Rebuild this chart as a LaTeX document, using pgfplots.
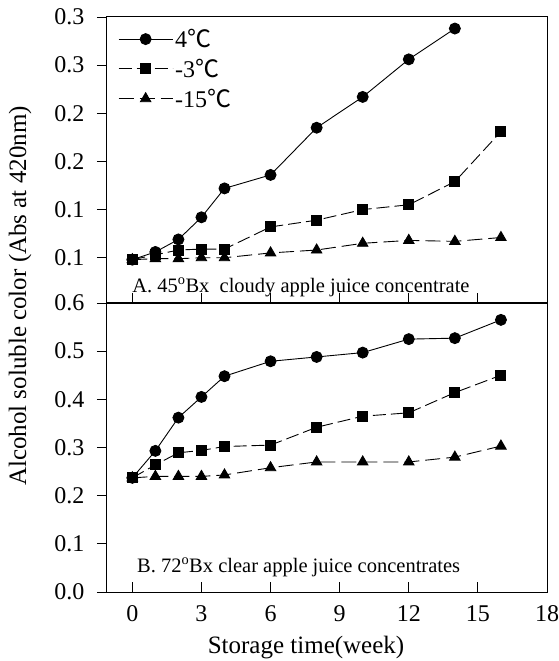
\documentclass[border=0pt]{standalone}
\usepackage{pgfplots}
\pgfplotsset{compat=1.18}
\usepackage{fontspec}
\setmainfont{Liberation Serif}
\newfontfamily\cjk{Noto Sans CJK SC}
\newcommand{\degC}{{\cjk ℃}}
\newcommand{\figfont}{\fontsize{24}{28}\selectfont}
\newcommand{\labfont}{\fontsize{25}{29}\selectfont}
\newcommand{\annfont}{\fontsize{20.5}{24}\selectfont}

\pgfplotsset{
    panel/.style={
        scale only axis,
        width=440pt,
        xmin=-1.1, xmax=18,
        xtick={0,3,6,9,12,15,18},
        axis line style={line width=1pt},
        x axis line style={line width=1.6pt},
        xtick align=inside, ytick align=outside,
        xtick pos=bottom, ytick pos=left,
        major tick length=10pt,
        tick style={black, line width=0.8pt},
        /pgf/number format/assume math mode=true,
        tick label style={font=\figfont},
        yticklabel style={xshift=-9pt},
        xticklabel style={yshift=-10pt},
        clip=false,
    },
    s4/.style={black, line width=0.9pt, mark=*, mark size=5.5pt},
    s3/.style={black, line width=0.9pt, dash pattern=on 13pt off 5pt,
        mark=square*, mark size=5pt, mark options={solid}},
    s15/.style={black, line width=0.9pt, dash pattern=on 15pt off 6pt,
        mark=triangle*, mark size=6pt, mark options={solid}},
}

\begin{document}
\begin{tikzpicture}
% bottom panel: 72 Bx
\begin{axis}[panel, name=bot, at={(0,0)}, anchor=south west,
    height=289pt,
    ymin=0, ymax=0.6,
    ytick={0,0.1,0.2,0.3,0.4,0.5,0.6},
    yticklabels={0.0,0.1,0.2,0.3,0.4,0.5,0.6},
]
\addplot[s4] coordinates {(0,0.237)(1,0.293)(2,0.362)(3,0.405)(4,0.448)(6,0.479)(8,0.488)(10,0.497)(12,0.525)(14,0.527)(16,0.565)};
\addplot[s3] coordinates {(0,0.237)(1,0.264)(2,0.289)(3,0.294)(4,0.302)(6,0.305)(8,0.342)(10,0.365)(12,0.372)(14,0.414)(16,0.450)};
\addplot[s15] coordinates {(0,0.237)(1,0.240)(2,0.240)(3,0.240)(4,0.243)(6,0.258)(8,0.270)(10,0.270)(12,0.270)(14,0.280)(16,0.303)};
\node[anchor=base west, font=\annfont, inner sep=0pt] at (rel axis cs:0.068,0.069)
    {B. 72\textsuperscript{o}Bx clear apple juice concentrates};
\end{axis}

% top panel: 45 Bx
\begin{axis}[panel, name=top, at={(0,289pt)}, anchor=south west,
    height=286pt,
    ymin=0.053, ymax=0.35,
    ytick={0.1,0.15,0.2,0.25,0.3,0.35},
    yticklabels={0.1,0.1,0.2,0.2,0.3,0.3},
    xticklabels={},
    legend style={at={(rel axis cs:0.025,0.965)}, anchor=north west,
        draw=none, fill=none, font=\figfont, row sep=6pt, inner sep=0pt},
    legend cell align=left,
    legend image code/.code={
        \draw[mark repeat=2, mark phase=2]
            plot coordinates {(0pt,0pt) (27pt,0pt) (54pt,0pt)};},
]
\addplot[s4] coordinates {(0,0.098)(1,0.106)(2,0.119)(3,0.142)(4,0.172)(6,0.186)(8,0.235)(10,0.267)(12,0.306)(14,0.338)};
\addplot[s3] coordinates {(0,0.098)(1,0.103)(2,0.108)(3,0.109)(4,0.109)(6,0.132)(8,0.139)(10,0.150)(12,0.155)(14,0.179)(16,0.231)};
\addplot[s15] coordinates {(0,0.098)(1,0.099)(2,0.099)(3,0.100)(4,0.100)(6,0.105)(8,0.108)(10,0.115)(12,0.118)(14,0.117)(16,0.121)};
\legend{4\degC, -3\degC, -15\degC}
\node[anchor=base west, font=\annfont, inner sep=0pt] at (rel axis cs:0.057,0.038)
    {A. 45\textsuperscript{o}Bx\ \ cloudy apple juice concentrate};
\end{axis}

\node[rotate=90, font=\labfont] at (-87pt,296pt) {Alcohol soluble color (Abs at 420nm)};
\node[font=\labfont] at (199pt,-56pt) {Storage time(week)};

\pgfresetboundingbox
\path (-107pt,-69pt) rectangle (452pt,592pt);
\end{tikzpicture}
\end{document}
